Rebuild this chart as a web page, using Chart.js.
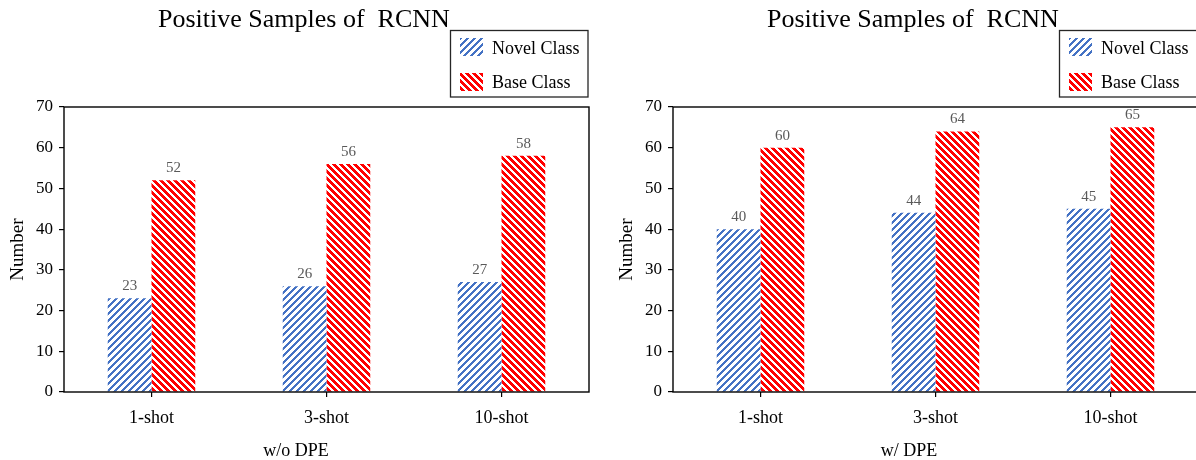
<!DOCTYPE html>
<html>
<head>
<meta charset="utf-8">
<script src="https://cdn.jsdelivr.net/npm/chart.js@4.4.1/dist/chart.umd.min.js"></script>
<style>
  html, body { margin: 0; padding: 0; background: #fff; overflow: hidden; width: 1196px; height: 460px; }
  .panel { position: absolute; top: 0; width: 600px; height: 460px; }
  #p1 { left: 0; }
  #p2 { left: 609px; }
</style>
</head>
<body>
<div class="panel" id="p1"><canvas id="c1" width="600" height="460"></canvas></div>
<div class="panel" id="p2"><canvas id="c2" width="600" height="460"></canvas></div>
<script>
// Shot settings on the x axis
const categories = ['1-shot', '3-shot', '10-shot'];

// Positive RCNN samples without DPE
const novelWithoutDPE = [23, 26, 27];
const baseWithoutDPE = [52, 56, 58];

// Positive RCNN samples with DPE
const novelWithDPE = [40, 44, 45];
const baseWithDPE = [60, 64, 65];

const seriesNames = ['Novel Class', 'Base Class'];
const chartTitle = 'Positive Samples of  RCNN';
const panelLabels = ['w/o DPE', 'w/ DPE'];
const yAxisLabel = 'Number';
const yMin = 0, yMax = 70, yStep = 10;

const SERIF = '"Liberation Serif", "Times New Roman", serif';
const BLUE = '#4472C4';
const RED = '#FF0000';

// Small pixel tile with diagonal stripes; dir > 0 gives "/", dir < 0 gives "\"
function stripeTile(color, dir, on, period) {
  const c = document.createElement('canvas');
  c.width = c.height = period;
  const g = c.getContext('2d');
  g.fillStyle = '#fff';
  g.fillRect(0, 0, period, period);
  g.fillStyle = color;
  for (let y = 0; y < period; y++) {
    for (let x = 0; x < period; x++) {
      const k = dir > 0 ? (x + y) % period : ((x - y) % period + period) % period;
      if (k < on) g.fillRect(x, y, 1, 1);
    }
  }
  return c;
}
const blueTile = stripeTile(BLUE, 1, 3, 7);
const redTile = stripeTile(RED, -1, 4, 7);

// Box around the plot area
const framePlugin = {
  id: 'frame',
  afterDatasetsDraw(chart) {
    const { ctx, chartArea: a } = chart;
    ctx.save();
    ctx.strokeStyle = '#000';
    ctx.lineWidth = 1.4;
    ctx.strokeRect(a.left, a.top, a.right - a.left, a.bottom - a.top);
    ctx.restore();
  }
};

// Value labels above every bar
const valueLabelPlugin = {
  id: 'valueLabels',
  afterDatasetsDraw(chart) {
    const { ctx } = chart;
    ctx.save();
    ctx.font = '15px ' + SERIF;
    ctx.fillStyle = '#595959';
    ctx.textAlign = 'center';
    ctx.textBaseline = 'alphabetic';
    chart.data.datasets.forEach((ds, i) => {
      chart.getDatasetMeta(i).data.forEach((el, j) => {
        ctx.fillText(String(ds.data[j]), el.x, el.y - 8);
      });
    });
    ctx.restore();
  }
};

// Title, framed legend and panel caption
const decorPlugin = {
  id: 'decor',
  afterDraw(chart, args, opts) {
    const { ctx } = chart;
    ctx.save();
    ctx.fillStyle = '#000';
    ctx.textBaseline = 'alphabetic';

    ctx.font = '26px ' + SERIF;
    ctx.textAlign = 'left';
    ctx.fillText(chartTitle, 158, 27);

    ctx.font = '18px ' + SERIF;
    ctx.textAlign = 'center';
    ctx.fillText(opts.caption, opts.captionX, 456);

    // legend
    ctx.strokeStyle = '#262626';
    ctx.lineWidth = 1.3;
    ctx.strokeRect(450.5, 30.5, 137.5, 66.5);
    const rows = [{ y: 38, h: 18, base: 54 }, { y: 73, h: 18, base: 88 }];
    chart.data.datasets.forEach((ds, i) => {
      const r = rows[i];
      ctx.fillStyle = ds.backgroundColor;
      ctx.fillRect(460, r.y, 23, r.h);
      ctx.fillStyle = '#000';
      ctx.textAlign = 'left';
      ctx.font = '18px ' + SERIF;
      ctx.fillText(ds.label, 492, r.base);
    });
    ctx.restore();
  }
};

function buildChart(canvasId, novel, base, caption, captionX) {
  const canvas = document.getElementById(canvasId);
  const ctx = canvas.getContext('2d');
  const bluePattern = ctx.createPattern(blueTile, 'repeat');
  const redPattern = ctx.createPattern(redTile, 'repeat');

  return new Chart(ctx, {
    type: 'bar',
    data: {
      labels: categories,
      datasets: [
        { label: seriesNames[0], data: novel, backgroundColor: bluePattern, borderWidth: 0,
          categoryPercentage: 0.5, barPercentage: 1.0 },
        { label: seriesNames[1], data: base, backgroundColor: redPattern, borderWidth: 0,
          categoryPercentage: 0.5, barPercentage: 1.0 }
      ]
    },
    options: {
      responsive: false,
      animation: false,
      devicePixelRatio: 1,
      layout: { padding: { top: 107, right: 11, left: 0, bottom: 0 } },
      plugins: {
        legend: { display: false },
        tooltip: { enabled: false },
        title: { display: false },
        decor: { caption: caption, captionX: captionX }
      },
      scales: {
        x: {
          ticks: { color: '#000', font: { family: SERIF, size: 18 }, padding: 10 },
          grid: { offset: false, drawOnChartArea: false, drawTicks: true, tickLength: 5, color: '#000', lineWidth: 1.2 },
          border: { display: false },
          afterFit(scale) { scale.height = 68; }
        },
        y: {
          min: yMin,
          max: yMax,
          ticks: { stepSize: yStep, color: '#000', font: { family: SERIF, size: 17 }, padding: 6 },
          grid: { drawOnChartArea: false, drawTicks: true, tickLength: 5, color: '#000', lineWidth: 1.2 },
          border: { display: false },
          title: { display: true, text: yAxisLabel, color: '#000', font: { family: SERIF, size: 19 },
                   padding: { top: 7, bottom: 0 } },
          afterFit(scale) { scale.width = 64; }
        }
      }
    },
    plugins: [framePlugin, valueLabelPlugin, decorPlugin]
  });
}

buildChart('c1', novelWithoutDPE, baseWithoutDPE, panelLabels[0], 296);
buildChart('c2', novelWithDPE, baseWithDPE, panelLabels[1], 300);
</script>
</body>
</html>
